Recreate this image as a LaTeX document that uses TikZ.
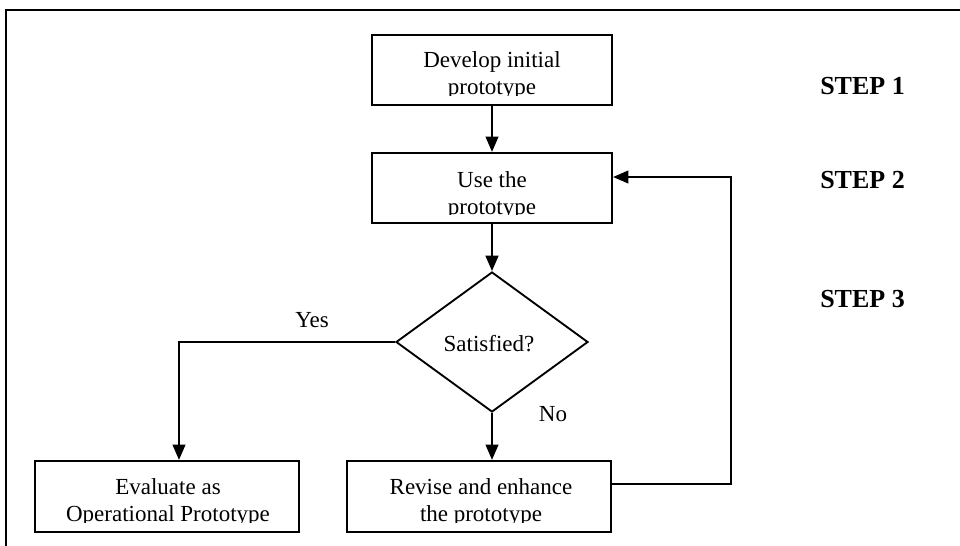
\documentclass[tikz,border=0pt]{standalone}
\usepackage{fontspec}
\setmainfont{Liberation Serif}
\usetikzlibrary{arrows.meta,shapes.geometric}
\begin{document}
\begin{tikzpicture}[x=0.75pt,y=-0.75pt,
  boxnode/.style={draw,line width=1.6pt,rectangle,inner sep=0pt},
  txt/.style={anchor=base,align=center,inner sep=0pt,font=\fontsize{17.25}{20.25}\selectfont},
  steplabel/.style={anchor=base west,inner sep=0pt,font=\fontsize{19.5}{22}\selectfont\bfseries},
  conn/.style={line width=1.6pt},
  arr/.style={conn,-{Triangle[length=11.5pt,width=9.5pt]}}]
\useasboundingbox (0,0) rectangle (960,546);
\fill[white] (0,0) rectangle (960,546);
% frame
\draw[line width=1.8pt] (960,10) -- (6,10) -- (6,546);
% boxes
\node[boxnode,minimum width=180pt,minimum height=52.5pt] (dev) at (492,70) {};
\node[boxnode,minimum width=180pt,minimum height=52.5pt] (use) at (492,188) {};
\node[boxnode,minimum width=198pt,minimum height=53.25pt] (ev) at (167,496.5) {};
\node[boxnode,minimum width=198pt,minimum height=53.25pt] (rev) at (479,496.5) {};
\node[draw,line width=1.4pt,diamond,inner sep=0pt,minimum width=144pt,minimum height=105pt] (sat) at (492,342) {};
\node[txt] (sattxt) at (489,351) {Satisfied?};
% box texts, clipped as in the reference
\begin{scope}
\clip (372,35) rectangle (612,95);
\node[txt] (devtxt) at (492,94) {Develop initial\\prototype};
\end{scope}
\begin{scope}
\clip (372,153) rectangle (612,214);
\node[txt] (usetxt) at (492,214) {Use the\\prototype};
\end{scope}
\begin{scope}
\clip (35,461) rectangle (299,522);
\node[txt] (evtxt) at (168,521) {Evaluate as\\Operational Prototype};
\end{scope}
\begin{scope}
\clip (347,461) rectangle (611,522);
\node[txt] (revtxt) at (481,521) {Revise and enhance\\the prototype};
\end{scope}
% connectors
\draw[arr] (dev.south) -- (use.north);
\draw[arr] (use.south) -- (sat.north);
\coordinate (yc) at (179,342);
\draw[arr] (sat.west) -- (yc) -- (yc |- ev.north);
\draw[arr] (sat.south) -- (sat.south |- rev.north);
\coordinate (lb) at (731,484);
\coordinate (lt) at (731,177);
\draw[arr] (rev.east |- lb) -- (lb) -- (lt) -- (use.east |- lt);
% labels
\node[txt] (yes) at (312,327) {Yes};
\node[txt] (no) at (553,421) {No};
\node[steplabel] (s1) at (820,94) {STEP 1};
\node[steplabel] (s2) at (820,188) {STEP 2};
\node[steplabel] (s3) at (820,307) {STEP 3};
\end{tikzpicture}
\end{document}
